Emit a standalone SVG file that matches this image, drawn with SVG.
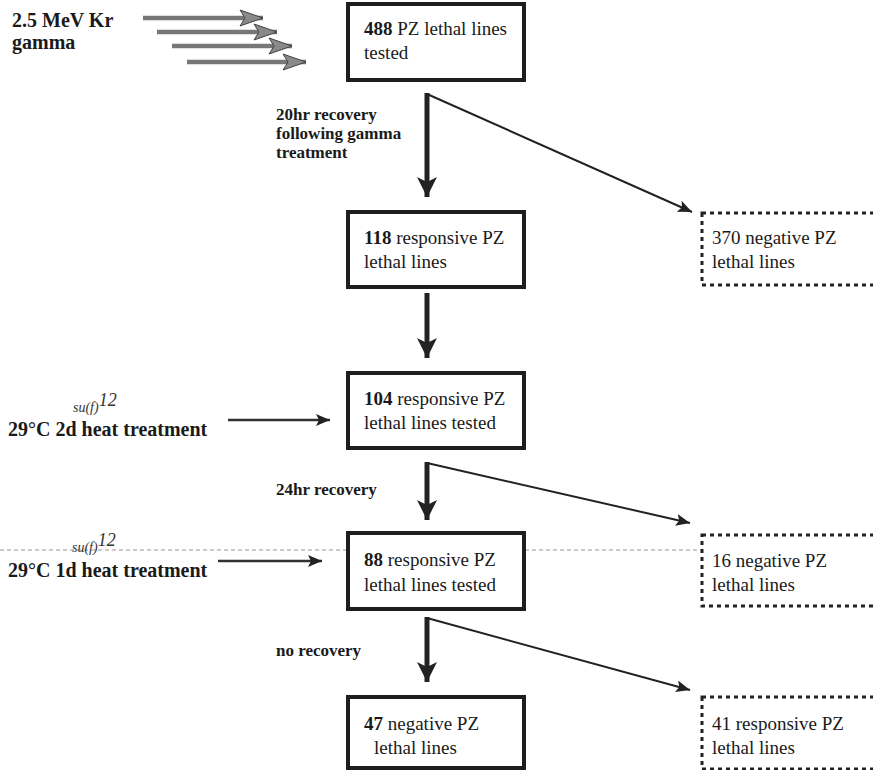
<svg xmlns="http://www.w3.org/2000/svg" width="873" height="770" viewBox="0 0 873 770" font-family="'Liberation Serif', 'Times New Roman', Times, 'DejaVu Serif', serif">
<defs>
<style>
text{font-family:'Liberation Serif','Times New Roman',Times,'DejaVu Serif',serif}
.t{font-size:19px;fill:#1a1a1a}
.lb{font-size:20px;font-weight:bold;fill:#1a1a1a}
.ls{font-size:17px;font-weight:bold;fill:#1a1a1a}
.b{font-weight:bold}
.it{font-style:italic;fill:#333}
.box{fill:#fff;stroke:#1e1e1e;stroke-width:4}
.dbox{fill:#fff;stroke:#222;stroke-width:3;stroke-dasharray:4 4}
.vshaft{stroke:#222;stroke-width:5;fill:none}
.diag{stroke:#222;stroke-width:2;fill:none}
.hz{stroke:#333;stroke-width:2.5;fill:none}
.gray{stroke:#777;stroke-width:4.5;fill:none}
.scan{stroke:#999;stroke-width:1;stroke-dasharray:4 3;fill:none}
</style>
<marker id="vh" markerUnits="userSpaceOnUse" markerWidth="20" markerHeight="24" refX="20" refY="10" orient="auto">
<path d="M0,0 L20,10 L0,20 L5,10 Z" fill="#222"/>
</marker>
<marker id="sh" markerUnits="userSpaceOnUse" markerWidth="16" markerHeight="12" refX="14" refY="6" orient="auto">
<path d="M0,0 L14,6 L0,12 L3,6 Z" fill="#222"/>
</marker>
<marker id="gh" markerUnits="userSpaceOnUse" markerWidth="26" markerHeight="20" refX="24" refY="9" orient="auto">
<path d="M1,1 L24,9 L1,17 L6,9 Z" fill="#8a8a8a" stroke="#444" stroke-width="1"/>
</marker>
</defs>

<line class="scan" x1="0" y1="550" x2="873" y2="550"/>

<g id="source">
<text class="lb" x="12" y="27">2.5 MeV Kr</text>
<text class="lb" x="12" y="49">gamma</text>
</g>

<g id="n488">
<rect class="box" x="348" y="4" width="176" height="76"/>
<text class="t" x="364" y="35"><tspan class="b">488</tspan> PZ lethal lines</text>
<text class="t" x="364" y="59">tested</text>
</g>

<g id="n118">
<rect class="box" x="348" y="212" width="176" height="75"/>
<text class="t" x="364" y="244"><tspan class="b">118</tspan> responsive PZ</text>
<text class="t" x="364" y="268">lethal lines</text>
</g>

<g id="n370">
<rect class="dbox" x="702" y="213" width="190" height="72"/>
<text class="t" x="712" y="244">370 negative PZ</text>
<text class="t" x="712" y="268">lethal lines</text>
</g>

<g id="n104">
<rect class="box" x="348" y="373" width="176" height="75"/>
<text class="t" x="364" y="405"><tspan class="b">104</tspan> responsive PZ</text>
<text class="t" x="364" y="429">lethal lines tested</text>
</g>

<g id="heat2d">
<text class="it" x="73" y="412" font-size="14">su(f)<tspan font-size="18" dy="-6">12</tspan></text>
<text class="lb" x="8" y="436">29°C 2d heat treatment</text>
</g>

<g id="rec24">
<text class="ls" x="276" y="495">24hr recovery</text>
</g>

<g id="n88">
<rect class="box" x="348" y="533" width="176" height="76"/>
<text class="t" x="364" y="566"><tspan class="b">88</tspan> responsive PZ</text>
<text class="t" x="364" y="591">lethal lines tested</text>
</g>

<g id="n16">
<rect class="dbox" x="702" y="535" width="190" height="71"/>
<text class="t" x="712" y="567">16 negative PZ</text>
<text class="t" x="712" y="591">lethal lines</text>
</g>

<g id="heat1d">
<text class="it" x="72" y="552" font-size="14">su(f)<tspan font-size="18" dy="-6">12</tspan></text>
<text class="lb" x="8" y="577">29°C 1d heat treatment</text>
</g>

<g id="norec">
<text class="ls" x="276" y="656">no recovery</text>
</g>

<g id="n47">
<rect class="box" x="348" y="697" width="176" height="71"/>
<text class="t" x="364" y="730"><tspan class="b">47</tspan> negative PZ</text>
<text class="t" x="374" y="754">lethal lines</text>
</g>

<g id="n41">
<rect class="dbox" x="702" y="697" width="190" height="72"/>
<text class="t" x="712" y="730">41 responsive PZ</text>
<text class="t" x="712" y="754">lethal lines</text>
</g>

<g id="rec20">
<text class="ls" x="276" y="120">20hr recovery</text>
<text class="ls" x="276" y="139">following gamma</text>
<text class="ls" x="276" y="158">treatment</text>
</g>

<g id="connectors">
<line class="gray" x1="143" y1="18" x2="263" y2="18" marker-end="url(#gh)"/>
<line class="gray" x1="157" y1="32" x2="277" y2="32" marker-end="url(#gh)"/>
<line class="gray" x1="172" y1="46" x2="292" y2="46" marker-end="url(#gh)"/>
<line class="gray" x1="187" y1="62" x2="306" y2="62" marker-end="url(#gh)"/>

<line class="vshaft" x1="427" y1="93" x2="427" y2="197" marker-end="url(#vh)"/>
<line class="diag" x1="427" y1="94" x2="692" y2="212" marker-end="url(#sh)"/>
<line class="vshaft" x1="427" y1="293" x2="427" y2="358" marker-end="url(#vh)"/>
<line class="hz" x1="228" y1="420" x2="330" y2="420" marker-end="url(#sh)"/>
<line class="vshaft" x1="427" y1="462" x2="427" y2="520" marker-end="url(#vh)"/>
<line class="diag" x1="427" y1="463" x2="690" y2="523" marker-end="url(#sh)"/>
<line class="hz" x1="218" y1="561" x2="322" y2="561" marker-end="url(#sh)"/>
<line class="vshaft" x1="427" y1="617" x2="427" y2="682" marker-end="url(#vh)"/>
<line class="diag" x1="427" y1="618" x2="690" y2="690" marker-end="url(#sh)"/>
</g>
</svg>
